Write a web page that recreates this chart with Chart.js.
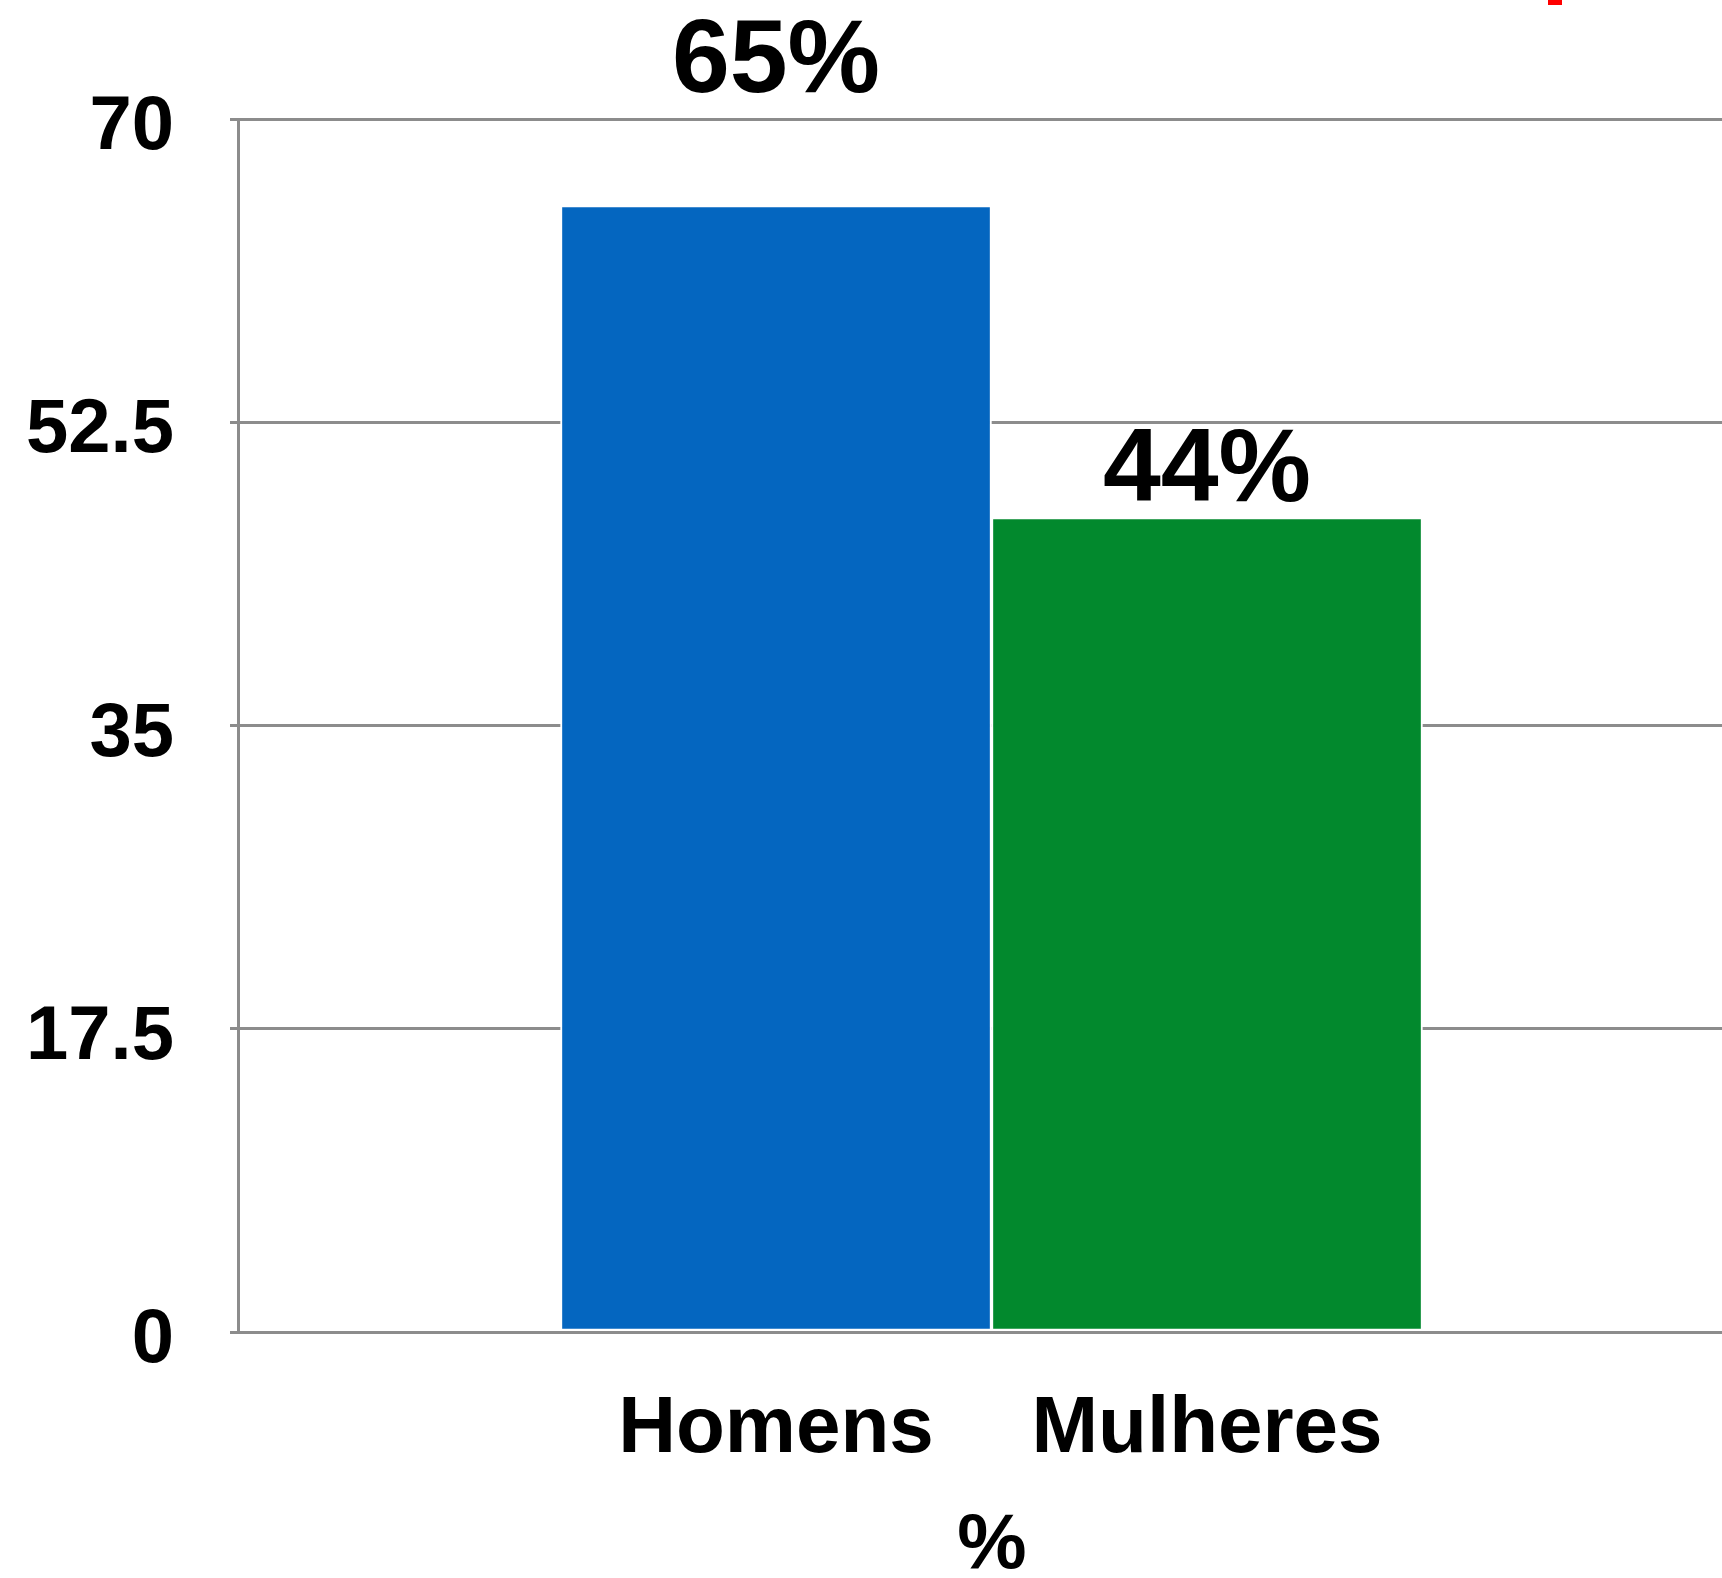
<!DOCTYPE html>
<html>
<head>
<meta charset="utf-8">
<script src="https://cdn.jsdelivr.net/npm/chart.js"></script>
<style>
  html, body { margin: 0; padding: 0; background: #fff; overflow: hidden; }
  #wrap { position: relative; width: 1722px; height: 1578px; overflow: hidden; }
  #box { position: absolute; left: 0; top: 0; width: 1746px; height: 1578px; }
  #redMark { position: absolute; left: 1548px; top: 0; width: 14px; height: 5px; background: #ff0000; }
</style>
</head>
<body>
<div id="wrap">
  <div id="box"><canvas id="barChart"></canvas></div>
  <div id="redMark"></div>
</div>
<script>
const categories = ["Homens", "Mulheres"];
const values = [65, 47];
const valueLabels = ["65%", "44%"];
const yTicks = [0, 17.5, 35, 52.5, 70];
const axisTitle = "%";

const FONT = "'Liberation Sans', Arial, Helvetica, sans-serif";

// draws the percentage text over each bar
const barLabels = {
  id: "barLabels",
  afterDatasetsDraw(chart, args, opts) {
    const ctx = chart.ctx;
    const meta = chart.getDatasetMeta(0);
    ctx.save();
    ctx.font = "bold " + opts.size + "px " + FONT;
    ctx.fillStyle = "#000";
    ctx.textAlign = "center";
    ctx.textBaseline = "alphabetic";
    meta.data.forEach((bar, i) => {
      ctx.fillText(valueLabels[i], bar.x, bar.y - opts.offsets[i]);
    });
    ctx.restore();
  },
};

const ctx = document.getElementById("barChart").getContext("2d");
const myChart = new Chart(ctx, {
  type: "bar",
  data: {
    datasets: [
      {
        data: categories.map((c, i) => ({ x: i, y: values[i] })),
        backgroundColor: ["rgb(4,102,192)", "rgb(2,137,45)"],
        borderColor: "#ffffff",
        borderWidth: 2,
        borderSkipped: false,
        barPercentage: 1,
        categoryPercentage: 1,
      },
    ],
  },
  plugins: [barLabels],
  options: {
    responsive: true,
    maintainAspectRatio: false,
    animation: false,
    layout: { padding: { top: 119, right: 0, bottom: 0, left: 0 } },
    plugins: {
      legend: { display: false },
      tooltip: { enabled: false },
      barLabels: { size: 104, offsets: [114, 17] },
    },
    scales: {
      x: {
        type: "linear",
        offset: false,
        min: -1.2483,
        max: 2.2506,
        afterBuildTicks: (scale) => {
          scale.ticks = categories.map((c, i) => ({ value: i }));
        },
        afterFit: (scale) => {
          scale.height = 1578 - 1332;
        },
        grid: { display: false, drawTicks: false, offset: false },
        border: { display: true, color: "#8c8c8c", width: 3 },
        ticks: {
          padding: 50,
          color: "#000",
          font: { family: FONT, size: 80, weight: "bold" },
          callback: (v) => categories[v],
        },
        title: {
          display: true,
          text: axisTitle,
          color: "#000",
          font: { family: FONT, size: 78, weight: "bold", lineHeight: 0.8 },
          padding: { top: 0, bottom: 0 },
        },
      },
      y: {
        min: 0,
        max: 70,
        afterBuildTicks: (scale) => {
          scale.ticks = yTicks.map((v) => ({ value: v }));
        },
        afterFit: (scale) => {
          scale.width = 238;
        },
        grid: { color: "#8c8c8c", lineWidth: 3, tickLength: 8, drawTicks: true },
        border: { display: true, color: "#8c8c8c", width: 3 },
        ticks: {
          padding: 56,
          color: "#000",
          // empty first line nudges the number down to sit on the grid line like the original
          font: { family: FONT, size: 76, weight: "bold", lineHeight: 0.24 },
          callback: (v) => ["", String(v)],
        },
      },
    },
  },
});
</script>
</body>
</html>
